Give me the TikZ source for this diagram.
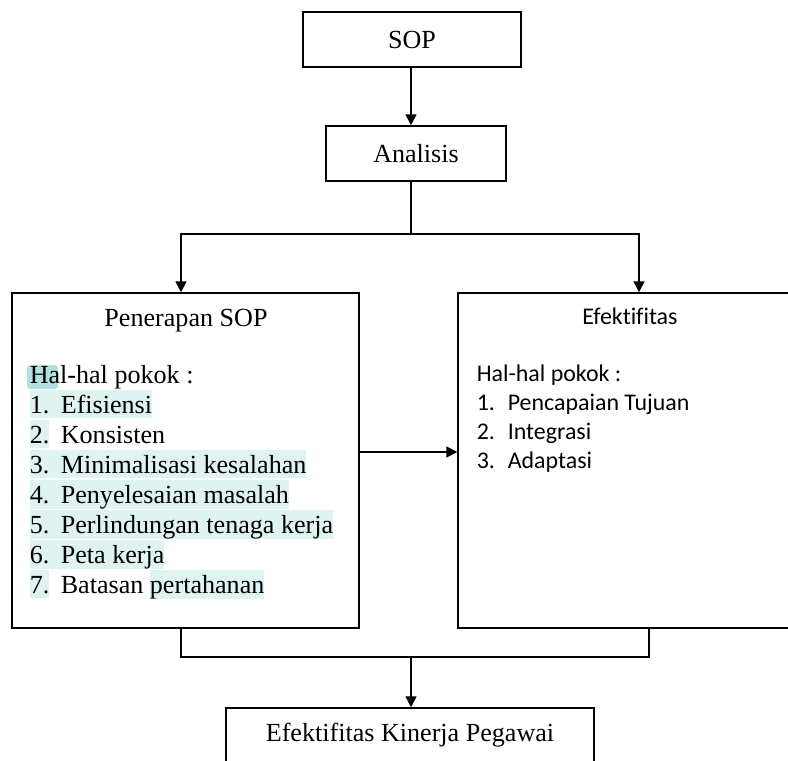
\documentclass[tikz,border=0pt]{standalone}
\usepackage{fontspec}
\setmainfont{Liberation Serif}
\newfontfamily\calibri[Ligatures=NoCommon]{Carlito}
\usetikzlibrary{arrows.meta}

\definecolor{hlcyan}{RGB}{222,243,242}
\definecolor{hlcursor}{RGB}{178,224,224}
\newcommand{\hlt}[1]{{\setlength{\fboxsep}{0pt}\colorbox{hlcyan}{\rule[-2.3pt]{0pt}{13.1pt}#1}}}
\newcommand{\numd}[1]{\makebox[14.3pt][l]{#1}}

\begin{document}
\begin{tikzpicture}[x=0.46pt,y=-0.46pt,>={Triangle[length=5pt,width=5pt]},line width=0.7pt,
    box/.style={draw,line width=0.7pt,inner sep=0pt,font=\fontsize{12}{14}\selectfont},
    item/.style={anchor=base west,inner sep=0pt,font=\fontsize{12}{14}\selectfont},
    citem/.style={anchor=base west,inner sep=0pt,font=\calibri\fontsize{11}{13}\selectfont}]
\useasboundingbox (0,0) rectangle (788,760);

% boxes
\node[box,minimum width=100.3pt,minimum height=25.3pt] (sop) at (412,39.5) {SOP};
\node[box,minimum width=82.8pt,minimum height=25.3pt] (ana) at (416,153.5) {Analisis};
\node[box,minimum width=159.6pt,minimum height=154.1pt] (pen) at (185.5,460.5) {};
\node[box,minimum width=158.2pt,minimum height=154.1pt] (efk) at (630,460.5) {};
\node[box,minimum width=169.3pt,minimum height=25.3pt] (kin) at (410,735.5) {Efektifitas Kinerja Pegawai};

% left box text
\node[item,anchor=base] (pentitle) at (186,326) {Penerapan SOP};
\fill[hlcursor,rounded corners=1.5pt] (27,365) rectangle (58,389);
\node[item] (penpokok) at (29,383) {Hal-hal pokok :};
\foreach \t [count=\k] in {{\hlt{\numd{1.}Efisiensi}},
    {\numd{\hlt{2.}}Konsisten},
    {\hlt{\numd{3.}Minimalisasi kesalahan}},
    {\hlt{\numd{4.}Penyelesaian masalah}},
    {\hlt{\numd{5.}Perlindungan tenaga kerja}},
    {\hlt{\numd{6.}Peta kerja}},
    {\numd{\hlt{7.}}Batasan \hlt{pertahanan}}}
    \node[item] (penitem\k) at (29,383+30*\k) {\t};

% right box text
\node[citem,anchor=base] (efktitle) at (630,324) {Efektifitas};
\node[citem] (efkpokok) at (476,381) {Hal-hal pokok :};
\foreach \t [count=\k] in {Pencapaian Tujuan,Integrasi,Adaptasi}
    \node[citem] (efkitem\k) at (476,381+29*\k) {\numd{\k.}\t};

% connectors
\coordinate (split) at (411,234);
\coordinate (lsplit) at (181,234);
\coordinate (rsplit) at (639,234);
\coordinate (mid) at (0,452);
\coordinate (join) at (411,657);
\coordinate (ljoin) at (181,657);
\coordinate (rjoin) at (649,657);

\draw[->] (sop.south -| split) -- (ana.north -| split);
\draw (ana.south -| split) -- (split);
\draw[->] (split) -| (lsplit |- pen.north);
\draw[->] (split) -| (rsplit |- efk.north);
\draw[->] (pen.east |- mid) -- (efk.west |- mid);
\draw (ljoin |- pen.south) -- (ljoin) -- (rjoin) -- (rjoin |- efk.south);
\draw[->] (join) -- (join |- kin.north);
\end{tikzpicture}
\end{document}
